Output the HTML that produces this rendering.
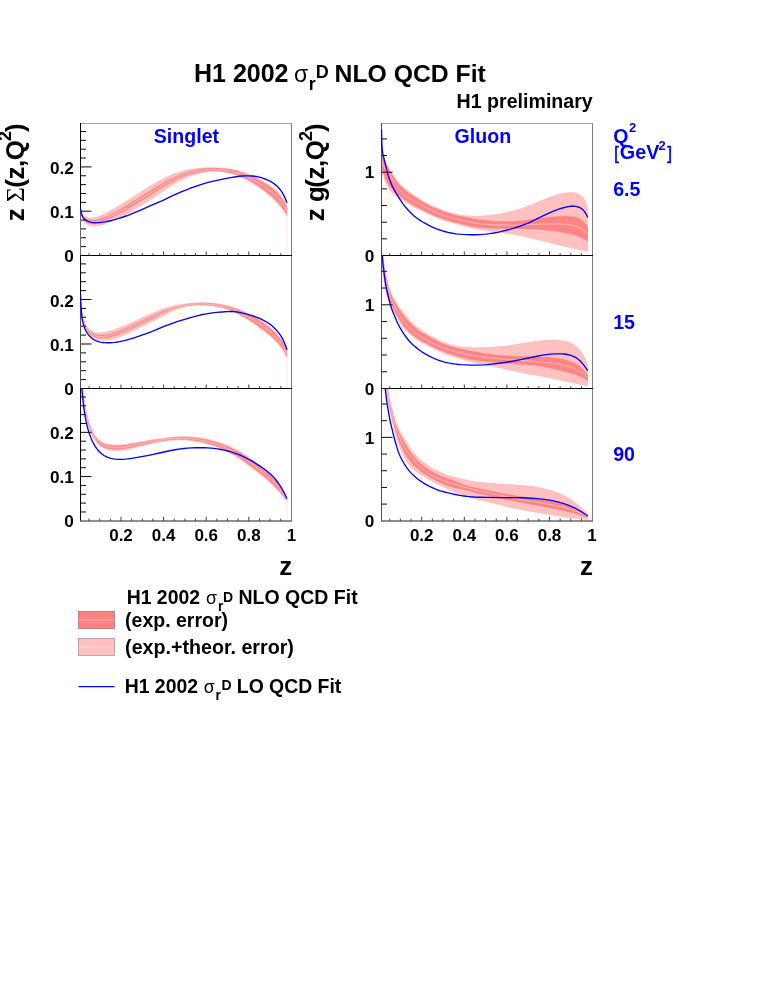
<!DOCTYPE html>
<html><head><meta charset="utf-8"><title>H1 2002 NLO QCD Fit</title>
<style>html,body{margin:0;padding:0;background:#fff;}body{width:772px;height:999px;overflow:hidden;position:relative;font-family:'Liberation Sans', sans-serif;}svg{position:absolute;left:0;top:0;will-change:transform;}</style>
</head><body>
<svg width="772" height="999" viewBox="0 0 772 999" style="display:block;font-family:'Liberation Sans', sans-serif;font-weight:bold">
<rect width="772" height="999" fill="#fff"/>
<clipPath id="c1L"><rect x="80.0" y="123.0" width="212.0" height="132.5"/></clipPath>
<g clip-path="url(#c1L)">
<polygon points="80.50,206.90 81.44,210.25 82.08,212.13 82.68,213.48 83.19,214.32 83.78,215.10 84.46,215.80 85.24,216.38 86.10,216.83 87.02,217.16 88.46,217.50 89.93,217.64 91.41,217.60 93.38,217.37 95.33,216.98 97.24,216.46 99.58,215.64 102.80,214.30 105.95,212.80 110.35,210.45 115.97,207.22 123.65,202.54 131.64,197.44 142.13,190.66 148.93,186.47 157.97,181.17 162.34,178.76 165.92,176.98 170.01,175.15 174.18,173.48 177.94,172.15 181.76,170.98 185.62,169.99 189.04,169.29 192.98,168.65 197.93,168.05 203.40,167.59 208.39,167.35 212.88,167.31 217.86,167.46 222.84,167.80 227.31,168.26 231.25,168.85 234.67,169.54 238.05,170.39 241.87,171.55 246.11,173.02 250.76,174.83 254.89,176.61 258.49,178.33 262.01,180.19 265.89,182.46 269.67,184.87 272.54,186.86 274.89,188.69 276.74,190.35 278.80,192.51 280.73,194.79 282.20,196.79 283.53,198.88 284.76,201.04 285.85,203.28 287.20,206.50 287.20,217.30 286.97,216.86 285.49,214.26 284.13,212.18 281.45,208.58 278.92,205.51 276.26,202.54 273.81,200.06 270.87,197.36 267.08,194.12 262.79,190.70 258.78,187.73 255.07,185.20 250.85,182.56 246.96,180.32 243.42,178.48 240.25,177.04 237.47,175.95 234.16,174.86 230.32,173.79 226.43,172.88 222.52,172.15 219.07,171.67 216.09,171.42 213.61,171.37 211.13,171.48 208.16,171.80 204.73,172.39 200.84,173.26 196.50,174.41 192.21,175.73 188.46,177.08 185.24,178.42 182.09,179.90 178.56,181.77 174.25,184.27 168.31,187.95 163.32,191.25 156.00,196.43 152.27,198.93 143.37,204.45 132.31,211.23 127.55,213.96 123.58,216.05 117.73,218.86 111.82,221.53 107.67,223.23 104.39,224.40 101.05,225.39 98.16,226.08 96.20,226.38 94.72,226.46 93.23,226.44 91.76,226.28 90.32,225.95 88.91,225.49 87.56,224.89 86.31,224.10 85.16,223.17 84.12,222.13 83.51,221.36 82.76,220.09 82.16,218.74 81.68,217.33 81.19,215.41 80.50,212.00" fill="#ffc0c0"/>
<polygon points="80.50,207.94 81.82,212.22 82.48,214.09 82.87,214.99 83.36,215.84 83.95,216.62 84.99,217.66 85.76,218.27 86.59,218.78 87.95,219.36 89.37,219.77 90.83,220.02 92.31,220.10 93.80,220.04 95.76,219.80 97.22,219.49 99.12,218.92 103.33,217.40 107.03,215.89 110.64,214.20 115.07,211.89 122.03,207.97 127.61,204.64 136.91,198.77 146.64,192.65 161.54,183.50 165.45,181.29 169.89,179.00 174.41,176.88 179.00,174.92 183.20,173.32 186.99,172.05 190.82,170.93 194.70,169.99 198.62,169.21 202.57,168.60 206.04,168.21 209.52,167.99 213.01,167.93 217.01,168.03 221.49,168.33 225.96,168.79 229.91,169.37 233.34,170.04 236.73,170.87 240.08,171.86 243.85,173.16 248.04,174.79 252.63,176.77 256.68,178.71 260.21,180.58 264.08,182.86 268.28,185.56 271.56,187.84 274.31,189.97 276.18,191.62 277.93,193.38 279.92,195.62 281.46,197.57 282.88,199.61 284.44,202.16 285.59,204.36 286.82,207.09 287.20,208.02 287.20,215.79 285.80,213.14 284.50,211.01 282.79,208.56 280.67,205.79 278.09,202.75 275.72,200.19 273.21,197.77 270.21,195.13 266.34,191.98 261.97,188.65 258.30,186.07 254.52,183.63 250.23,181.09 246.28,178.95 242.69,177.21 239.47,175.85 236.19,174.68 232.84,173.69 228.97,172.72 225.06,171.92 221.12,171.30 217.65,170.93 214.67,170.78 212.18,170.80 209.20,171.01 205.24,171.50 200.31,172.29 194.43,173.43 190.06,174.45 186.70,175.40 183.87,176.37 180.64,177.68 177.02,179.37 172.59,181.66 167.37,184.60 162.67,187.45 153.90,193.18 132.23,206.56 126.65,209.88 121.83,212.52 114.72,216.16 109.31,218.75 105.65,220.34 101.93,221.76 99.10,222.70 97.18,223.18 95.22,223.49 93.25,223.66 91.76,223.63 89.80,223.40 88.36,223.08 87.44,222.74 86.14,222.04 84.93,221.19 84.21,220.53 83.59,219.77 83.06,218.95 82.37,217.64 81.82,216.26 81.26,214.36 80.50,210.96" fill="#ff8a8a"/>
<path d="M80.50,209.45 L81.39,212.82 L82.16,215.18 L82.74,216.55 L83.21,217.41 L83.77,218.21 L84.43,218.94 L85.17,219.59 L85.96,220.17 L86.82,220.66 L87.72,221.06 L89.13,221.49 L90.59,221.75 L92.07,221.87 L93.56,221.85 L95.53,221.65 L97.48,221.27 L99.39,220.72 L103.14,219.39 L106.84,217.91 L110.47,216.25 L115.38,213.77 L122.42,209.97 L127.62,206.98 L134.85,202.52 L147.58,194.58 L155.23,189.85 L161.97,185.57 L166.28,183.04 L171.12,180.44 L175.60,178.21 L179.70,176.37 L183.41,174.90 L186.71,173.77 L190.07,172.79 L193.95,171.85 L198.36,170.96 L202.79,170.22 L206.75,169.72 L210.23,169.44 L213.23,169.36 L216.72,169.45 L220.70,169.76 L224.66,170.24 L228.60,170.90 L232.51,171.73 L235.88,172.62 L239.21,173.67 L242.48,174.90 L246.16,176.47 L250.22,178.40 L254.64,180.71 L258.54,182.95 L262.34,185.36 L266.44,188.20 L270.45,191.19 L273.16,193.39 L275.39,195.38 L277.49,197.51 L279.81,200.12 L281.67,202.46 L283.38,204.91 L284.72,207.01 L285.91,209.19 L287.20,211.90" fill="none" stroke="#ffc2c2" stroke-width="0.9"/>
<line x1="287.2" y1="217.3" x2="287.2" y2="255.5" stroke="#ffdcdc" stroke-width="0.6"/>
</g>
<clipPath id="c2L"><rect x="80.0" y="255.0" width="212.0" height="133.5"/></clipPath>
<g clip-path="url(#c2L)">
<polygon points="80.50,296.00 81.18,303.46 81.83,308.90 82.46,312.84 83.17,316.25 83.93,319.13 84.90,321.95 85.65,323.78 86.32,325.11 87.09,326.38 87.96,327.58 88.94,328.69 90.01,329.71 91.20,330.60 92.48,331.32 93.86,331.86 95.29,332.23 96.76,332.45 98.24,332.54 100.22,332.50 102.69,332.27 105.14,331.87 107.55,331.30 111.37,330.16 116.08,328.53 122.14,326.22 127.67,323.93 137.70,319.45 148.19,314.78 157.84,310.70 162.48,308.87 166.25,307.58 170.08,306.45 173.95,305.48 177.85,304.67 182.28,303.95 187.73,303.27 193.69,302.70 198.67,302.38 202.65,302.29 206.64,302.40 211.12,302.70 215.58,303.19 220.02,303.85 223.93,304.61 227.81,305.53 231.65,306.61 235.91,308.01 240.11,309.59 244.70,311.54 249.22,313.66 253.66,315.94 258.00,318.38 261.82,320.74 265.13,322.97 268.33,325.35 271.04,327.54 273.63,329.88 276.09,332.34 278.08,334.57 279.95,336.90 281.69,339.33 283.83,342.69 285.58,345.71 287.20,348.80 287.20,358.80 285.74,355.63 284.55,353.43 282.96,350.91 281.25,348.46 279.08,345.73 276.78,343.10 274.35,340.59 271.44,337.86 267.65,334.61 262.98,330.85 258.21,327.23 253.73,324.04 249.15,321.00 244.47,318.12 239.71,315.37 235.30,313.03 231.70,311.31 228.47,309.98 225.65,308.99 222.30,308.03 218.90,307.23 214.97,306.50 211.52,306.02 208.04,305.70 204.05,305.52 200.06,305.51 196.07,305.66 192.09,305.99 188.63,306.45 185.69,307.01 182.30,307.84 178.96,308.84 175.67,310.02 172.45,311.36 169.30,312.87 158.71,318.49 150.67,322.51 129.64,332.99 124.23,335.57 120.11,337.35 116.85,338.58 114.47,339.31 112.05,339.89 109.60,340.32 107.13,340.60 104.65,340.73 102.16,340.72 100.18,340.57 98.23,340.26 96.79,339.89 95.40,339.37 94.06,338.73 92.78,337.99 91.58,337.12 90.48,336.12 89.16,334.64 87.66,332.67 86.58,331.00 85.63,329.26 84.62,326.99 83.77,324.65 83.09,322.26 82.43,319.35 81.83,315.91 81.12,310.47 80.50,304.00" fill="#ffc0c0"/>
<polygon points="80.50,297.62 81.13,304.59 81.78,310.04 82.41,313.98 83.11,317.39 83.87,320.27 84.66,322.63 85.59,324.93 86.49,326.70 87.54,328.37 88.76,329.94 89.76,331.02 90.87,332.01 92.08,332.86 93.39,333.55 94.77,334.08 96.20,334.47 97.66,334.72 99.63,334.87 102.11,334.86 104.59,334.66 107.04,334.30 109.95,333.63 113.30,332.67 117.09,331.42 121.28,329.82 126.34,327.69 134.05,324.14 147.63,317.80 160.39,312.10 165.46,309.99 169.67,308.43 173.47,307.21 177.32,306.17 181.70,305.18 186.60,304.28 191.54,303.56 196.01,303.08 199.99,302.83 203.47,302.78 207.46,302.92 211.94,303.27 216.39,303.81 220.33,304.45 224.24,305.25 228.11,306.23 231.92,307.38 235.69,308.70 239.86,310.36 244.42,312.38 248.91,314.57 253.32,316.91 257.64,319.41 261.44,321.80 265.13,324.35 268.33,326.74 271.03,328.95 273.62,331.28 276.08,333.75 278.08,335.98 279.96,338.30 281.71,340.72 283.85,344.08 285.60,347.10 287.20,350.20 287.20,357.40 286.79,356.49 285.49,353.79 284.27,351.62 282.39,348.69 280.63,346.27 278.43,343.56 276.11,340.96 273.64,338.48 270.70,335.79 266.87,332.58 262.16,328.88 257.73,325.63 253.19,322.53 248.56,319.58 243.83,316.78 239.01,314.14 235.00,312.12 231.36,310.48 228.11,309.22 224.79,308.15 221.41,307.26 217.51,306.43 213.57,305.79 210.10,305.39 206.12,305.12 201.63,305.01 197.13,305.06 192.65,305.29 188.67,305.67 185.22,306.16 181.79,306.83 178.41,307.68 175.07,308.70 172.27,309.74 169.06,311.11 162.72,314.07 148.73,320.71 129.36,330.01 123.91,332.50 119.75,334.21 116.47,335.40 113.13,336.41 109.75,337.24 106.81,337.78 104.34,338.07 101.86,338.21 99.88,338.17 97.91,337.97 96.46,337.67 95.04,337.22 93.67,336.65 92.37,335.95 91.16,335.10 90.05,334.11 88.71,332.65 87.50,331.09 86.42,329.42 85.49,327.67 84.69,325.85 83.84,323.52 83.16,321.13 82.40,317.73 81.81,314.29 81.12,308.84 80.50,302.37" fill="#ff8a8a"/>
<path d="M80.50,300.00 L81.15,306.96 L81.83,312.41 L82.40,315.85 L83.13,319.25 L83.78,321.65 L84.59,324.00 L85.54,326.30 L86.45,328.05 L87.52,329.72 L88.73,331.29 L89.73,332.39 L90.81,333.39 L92.01,334.27 L93.30,334.99 L94.67,335.56 L96.08,336.00 L97.53,336.31 L99.50,336.51 L101.48,336.55 L103.96,336.41 L106.43,336.12 L108.87,335.66 L112.25,334.82 L115.59,333.81 L119.35,332.47 L123.51,330.79 L128.98,328.34 L148.39,319.16 L163.83,312.10 L168.88,309.95 L172.61,308.53 L175.93,307.47 L179.30,306.57 L183.20,305.72 L187.13,305.04 L191.58,304.47 L196.06,304.09 L200.04,303.92 L204.03,303.92 L208.02,304.09 L211.99,304.43 L215.95,304.95 L219.88,305.64 L223.77,306.50 L227.14,307.43 L230.45,308.51 L234.18,309.94 L238.29,311.74 L242.78,313.91 L247.64,316.47 L252.40,319.21 L256.64,321.84 L260.79,324.62 L264.83,327.54 L268.76,330.61 L271.80,333.20 L274.35,335.58 L276.77,338.09 L279.05,340.72 L280.89,343.08 L282.60,345.53 L284.70,348.92 L286.12,351.55 L287.20,353.80" fill="none" stroke="#ffc2c2" stroke-width="0.9"/>
<line x1="287.2" y1="358.8" x2="287.2" y2="388.5" stroke="#ffdcdc" stroke-width="0.6"/>
</g>
<clipPath id="c3L"><rect x="80.0" y="388.0" width="212.0" height="132.79999999999995"/></clipPath>
<g clip-path="url(#c3L)">
<polygon points="82.90,380.00 83.91,393.96 84.42,398.93 85.07,403.37 86.16,409.27 87.32,414.64 88.43,419.00 89.58,422.82 90.89,426.59 92.21,429.82 93.29,432.06 94.52,434.22 95.89,436.29 97.14,437.83 98.18,438.89 99.68,440.18 100.88,441.06 102.16,441.81 103.50,442.45 105.36,443.14 107.27,443.67 109.22,444.04 111.69,444.34 114.67,444.48 118.16,444.46 122.14,444.24 126.11,443.82 131.05,443.08 149.76,439.80 156.19,438.84 170.55,436.92 175.02,436.48 179.01,436.25 183.00,436.21 187.50,436.34 192.48,436.67 196.95,437.12 201.40,437.76 205.82,438.59 210.69,439.70 215.51,440.99 220.29,442.46 224.54,443.93 228.72,445.58 232.37,447.19 235.96,448.96 239.90,451.11 243.76,453.43 247.94,456.15 252.45,459.30 257.25,462.90 261.94,466.63 266.52,470.50 270.22,473.85 273.07,476.66 275.45,479.21 277.38,481.49 279.19,483.87 280.85,486.36 282.60,489.38 284.90,493.81 286.80,497.88 287.20,498.80 287.20,501.80 286.01,500.20 283.82,497.48 280.18,493.37 276.03,489.06 270.36,483.45 266.70,480.06 263.28,477.15 258.97,473.75 244.61,462.95 239.75,459.45 236.43,457.26 233.00,455.21 228.19,452.58 223.73,450.33 220.11,448.68 216.41,447.19 212.64,445.88 208.35,444.58 203.52,443.32 198.65,442.23 194.24,441.43 190.29,440.88 186.32,440.51 182.33,440.33 177.85,440.34 172.86,440.56 167.89,440.96 163.94,441.44 160.50,442.03 146.89,445.09 137.19,447.45 129.92,449.20 126.01,449.99 122.56,450.49 119.09,450.79 116.11,450.89 113.13,450.83 110.66,450.60 108.71,450.27 106.79,449.77 105.39,449.27 103.58,448.48 101.38,447.35 100.13,446.55 99.00,445.61 97.98,444.53 96.44,442.59 94.12,439.37 91.93,436.06 90.97,434.33 90.18,432.51 89.20,429.70 88.23,426.36 87.04,421.52 85.69,415.17 84.62,409.28 83.81,403.85 83.07,397.41 82.23,388.46 81.60,380.00" fill="#ffc0c0"/>
<polygon points="82.90,382.52 83.94,395.95 84.42,400.42 85.09,404.86 86.29,411.23 87.47,416.59 88.61,420.93 89.79,424.74 90.98,428.02 92.13,430.77 93.21,433.01 94.43,435.17 95.79,437.24 97.01,438.81 98.03,439.89 99.50,441.20 100.69,442.09 101.95,442.88 103.28,443.54 105.11,444.28 107.01,444.86 108.95,445.27 111.41,445.60 113.89,445.75 117.37,445.77 120.85,445.61 124.32,445.30 128.27,444.75 134.66,443.61 148.88,440.91 156.27,439.68 167.14,438.13 172.59,437.50 177.07,437.17 181.56,437.04 186.05,437.10 191.03,437.35 195.50,437.75 199.46,438.26 203.39,438.93 207.78,439.87 212.62,441.09 217.41,442.49 221.66,443.91 225.86,445.50 229.99,447.26 234.05,449.19 238.01,451.30 241.88,453.58 246.08,456.27 251.01,459.67 256.23,463.52 261.34,467.52 265.93,471.36 269.65,474.69 272.52,477.46 275.27,480.35 277.55,482.99 279.38,485.35 281.07,487.81 282.87,490.80 285.01,494.74 286.78,498.32 287.20,499.22 287.20,501.38 286.08,499.73 284.01,496.91 281.20,493.42 278.56,490.44 274.78,486.46 270.53,482.25 266.87,478.86 263.46,475.94 259.17,472.51 251.22,466.48 243.18,460.57 239.08,457.73 235.71,455.61 231.81,453.39 226.95,450.85 222.90,448.91 219.23,447.35 215.50,445.94 211.71,444.70 207.40,443.46 202.56,442.27 197.68,441.24 193.25,440.48 189.30,439.96 185.33,439.62 181.84,439.48 177.86,439.50 173.37,439.71 168.41,440.13 163.95,440.68 160.02,441.34 147.34,444.01 131.78,447.59 126.90,448.59 123.45,449.11 119.98,449.45 116.50,449.60 113.52,449.56 111.05,449.37 109.09,449.07 107.16,448.62 105.28,447.99 103.47,447.20 101.72,446.28 100.47,445.48 98.90,444.27 97.82,443.26 96.82,442.16 95.61,440.59 93.97,438.11 92.47,435.53 91.16,432.85 90.02,430.10 89.03,427.28 87.91,423.45 86.73,418.61 85.40,412.26 84.53,407.35 83.86,402.41 82.90,393.48" fill="#ff8a8a"/>
<path d="M82.90,388.00 L83.88,398.95 L84.48,403.91 L85.20,408.35 L86.46,414.72 L87.57,419.59 L88.62,423.44 L89.67,426.77 L90.90,430.04 L92.10,432.77 L93.24,434.99 L94.78,437.54 L96.19,439.58 L97.47,441.10 L98.52,442.15 L100.05,443.41 L101.28,444.25 L102.57,444.98 L104.37,445.81 L106.23,446.49 L108.15,447.00 L110.60,447.41 L113.07,447.63 L116.06,447.70 L119.55,447.58 L123.03,447.30 L126.49,446.84 L131.40,445.94 L148.03,442.46 L158.35,440.52 L163.77,439.64 L168.73,439.00 L173.70,438.54 L178.19,438.31 L182.19,438.26 L186.18,438.39 L190.66,438.72 L195.12,439.24 L199.56,439.95 L203.97,440.82 L208.83,441.99 L213.16,443.20 L217.44,444.58 L221.65,446.14 L225.80,447.88 L230.32,450.00 L234.31,452.06 L237.78,454.04 L241.59,456.42 L246.14,459.51 L252.23,463.89 L258.21,468.40 L262.90,472.14 L267.08,475.71 L270.75,479.10 L273.94,482.27 L277.00,485.56 L279.26,488.22 L281.09,490.58 L283.07,493.46 L284.96,496.40 L286.96,499.86 L287.20,500.30" fill="none" stroke="#ffc2c2" stroke-width="0.9"/>
<line x1="287.2" y1="501.8" x2="287.2" y2="520.8" stroke="#ffdcdc" stroke-width="0.6"/>
</g>
<clipPath id="c1R"><rect x="381.0" y="123.0" width="212.0" height="132.5"/></clipPath>
<g clip-path="url(#c1R)">
<polygon points="381.50,149.80 385.63,159.97 387.64,164.53 389.40,168.11 391.08,171.16 393.19,174.55 395.71,178.25 397.80,181.04 399.39,182.94 401.11,184.74 403.31,186.76 406.37,189.30 409.94,192.02 413.62,194.58 418.65,197.83 423.78,200.92 427.69,203.12 431.24,204.93 435.33,206.78 440.41,208.86 445.55,210.76 449.82,212.16 453.65,213.25 457.04,214.06 460.47,214.70 463.93,215.16 467.90,215.51 472.38,215.72 476.87,215.77 481.85,215.63 486.83,215.31 491.79,214.82 496.24,214.22 500.66,213.43 506.99,212.06 514.26,210.30 518.59,209.10 521.91,208.03 526.11,206.46 545.06,198.74 551.12,196.43 555.36,194.98 559.18,193.86 562.09,193.17 564.53,192.74 567.00,192.47 569.98,192.32 572.46,192.33 574.43,192.46 575.89,192.70 577.30,193.14 578.64,193.75 579.92,194.50 581.10,195.38 582.18,196.40 583.51,197.87 584.42,199.03 585.19,200.29 585.84,201.62 586.69,203.94 587.90,207.73 587.90,251.82 585.46,251.28 573.73,248.76 565.92,247.04 542.61,241.34 526.15,237.14 521.28,236.02 516.86,235.19 509.45,234.05 487.66,231.05 480.25,229.91 474.85,228.91 469.97,227.81 460.30,225.29 450.17,222.54 443.94,220.69 439.69,219.25 435.96,217.81 430.92,215.63 423.22,212.03 417.40,209.14 413.00,206.77 408.70,204.24 396.44,196.54 393.99,194.84 392.44,193.60 391.38,192.57 390.41,191.44 389.24,189.84 387.94,187.72 386.79,185.52 385.55,182.80 384.28,179.55 382.80,175.31 381.50,171.00" fill="#ffc0c0"/>
<polygon points="381.50,152.56 383.54,157.65 385.77,162.67 387.75,166.69 389.91,170.62 392.24,174.46 394.97,178.63 397.28,181.88 398.82,183.83 400.80,186.06 402.56,187.81 404.81,189.77 407.95,192.23 411.19,194.55 415.36,197.29 420.90,200.66 426.09,203.63 430.06,205.72 434.12,207.64 438.72,209.58 443.85,211.52 448.57,213.12 452.40,214.25 456.27,215.20 464.09,216.77 473.39,218.59 478.31,219.40 483.26,220.03 488.72,220.55 495.20,220.96 502.68,221.25 509.16,221.33 514.15,221.24 518.63,220.99 523.60,220.51 529.53,219.72 541.38,217.96 548.31,217.11 554.77,216.51 560.25,216.18 564.73,216.10 568.71,216.20 571.69,216.41 574.14,216.75 576.08,217.18 577.49,217.62 579.32,218.37 580.64,219.04 581.88,219.84 582.98,220.82 583.97,221.91 586.42,225.04 587.90,227.04 587.90,241.87 585.45,240.16 583.35,238.83 581.59,237.92 578.87,236.70 576.54,235.82 573.69,234.95 570.31,234.11 565.43,233.11 559.03,232.01 552.12,231.03 545.18,230.23 538.22,229.62 531.74,229.23 524.76,229.00 507.79,228.84 495.32,228.56 485.84,228.19 480.37,227.83 476.40,227.42 472.96,226.88 469.06,226.07 459.86,223.80 451.65,221.63 445.43,219.80 440.70,218.24 436.97,216.82 432.85,215.04 426.07,211.86 418.92,208.31 414.09,205.72 410.21,203.45 406.43,201.03 402.34,198.19 399.15,195.80 396.85,193.89 394.66,191.86 392.59,189.72 390.66,187.44 389.18,185.45 387.82,183.37 386.58,181.21 385.49,178.98 384.32,176.23 382.90,172.51 381.50,168.24" fill="#ff8585"/>
<path d="M381.50,160.40 L382.51,163.21 L383.49,165.50 L384.41,167.26 L385.69,169.38 L387.68,172.24 L391.44,177.50 L394.74,182.49 L398.03,187.47 L399.80,189.87 L401.09,191.38 L402.50,192.77 L404.77,194.70 L407.56,196.79 L410.86,199.01 L414.70,201.34 L420.80,204.74 L428.29,208.73 L432.75,210.95 L436.39,212.59 L440.09,214.07 L444.79,215.74 L450.03,217.38 L454.84,218.69 L461.15,220.17 L469.94,222.02 L474.85,222.91 L480.28,223.69 L485.74,224.29 L491.21,224.71 L498.69,225.04 L507.67,225.24 L514.16,225.21 L520.14,225.01 L532.60,224.35 L543.07,224.04 L553.06,223.91 L559.04,223.97 L563.52,224.18 L567.49,224.55 L570.94,225.03 L573.37,225.52 L575.29,226.03 L577.16,226.69 L578.97,227.50 L580.71,228.44 L582.37,229.52 L583.92,230.74 L586.48,233.10 L587.90,234.50" fill="none" stroke="#ffc2c2" stroke-width="0.9"/>
<line x1="587.9" y1="251.8" x2="587.9" y2="255.5" stroke="#ffdcdc" stroke-width="0.6"/>
</g>
<clipPath id="c2R"><rect x="381.0" y="255.0" width="212.0" height="133.5"/></clipPath>
<g clip-path="url(#c2R)">
<polygon points="382.60,247.00 384.14,262.91 384.70,267.37 385.31,270.80 386.44,275.65 389.20,287.28 389.91,289.66 390.62,291.51 391.89,294.21 393.98,298.18 395.99,301.63 398.14,304.99 400.71,308.68 403.71,312.67 406.54,316.16 409.17,319.16 411.60,321.67 414.52,324.39 417.94,327.29 420.71,329.42 423.19,331.08 427.04,333.39 433.16,336.76 438.48,339.52 442.09,341.23 445.30,342.59 448.58,343.80 451.91,344.82 455.30,345.65 458.73,346.30 462.19,346.76 466.16,347.12 471.15,347.37 477.14,347.46 483.14,347.37 489.12,347.09 496.10,346.54 505.04,345.63 512.48,344.69 519.39,343.62 530.71,341.67 536.15,340.90 541.61,340.31 546.60,339.94 551.08,339.77 555.07,339.78 558.56,339.96 561.53,340.27 564.47,340.78 566.89,341.35 569.26,342.09 571.09,342.85 572.84,343.78 574.51,344.86 576.09,346.05 577.57,347.37 579.32,349.14 580.93,351.03 582.39,353.04 583.72,355.14 585.16,357.75 586.23,360.00 587.72,363.70 587.90,364.17 587.90,386.32 585.95,385.91 572.30,382.88 558.13,379.88 549.33,378.07 537.04,375.87 525.26,373.67 515.97,371.76 494.54,366.90 489.65,365.94 481.77,364.71 478.34,364.09 474.45,363.18 468.68,361.60 455.76,357.75 449.58,355.77 445.83,354.41 441.69,352.68 435.34,349.75 427.72,346.03 422.40,343.27 418.94,341.30 415.99,339.43 413.56,337.70 410.84,335.52 407.87,332.86 405.38,330.42 403.71,328.58 402.16,326.64 400.72,324.61 399.40,322.50 397.47,319.01 392.20,308.82 390.03,304.33 388.66,301.12 387.64,298.32 386.48,294.50 385.35,290.16 384.40,285.77 383.45,280.36 382.75,275.42 382.22,270.46 381.75,263.99 381.50,258.00" fill="#ffc0c0"/>
<polygon points="382.00,247.01 382.39,248.95 382.86,252.91 384.08,263.31 384.95,269.23 386.02,275.13 387.16,280.49 388.37,285.33 389.61,289.64 390.86,293.42 391.95,296.20 393.21,298.91 394.83,302.00 396.60,305.00 399.05,308.76 401.91,312.84 404.92,316.82 407.47,319.89 409.82,322.46 412.30,324.91 414.92,327.21 417.64,329.38 420.47,331.42 423.82,333.59 428.12,336.12 433.37,338.99 437.81,341.25 441.89,343.13 445.58,344.63 448.87,345.79 452.21,346.80 456.08,347.75 469.27,350.45 477.08,352.09 482.48,353.05 487.92,353.82 495.36,354.64 504.80,355.49 512.77,356.05 518.75,356.30 534.21,356.54 543.19,356.87 549.66,357.27 554.13,357.69 558.08,358.23 562.00,358.94 565.40,359.74 568.75,360.70 571.57,361.67 573.86,362.62 576.09,363.72 577.79,364.73 579.40,365.88 580.92,367.16 582.68,368.91 584.70,371.10 587.90,374.92 587.90,380.86 586.62,380.08 583.60,378.32 580.92,377.00 577.74,375.57 574.95,374.52 571.62,373.47 566.32,372.02 558.56,370.12 551.24,368.52 543.88,367.11 536.50,365.86 532.05,365.24 527.08,364.78 510.62,363.73 502.16,363.08 486.74,361.58 477.31,360.57 472.36,359.88 468.44,359.15 464.06,358.13 457.80,356.44 451.57,354.59 447.31,353.17 443.58,351.74 439.00,349.76 433.58,347.21 427.79,344.27 422.08,341.18 418.21,338.90 415.30,336.98 412.90,335.21 410.60,333.29 408.06,330.91 405.99,328.76 404.04,326.49 402.23,324.11 400.27,321.22 398.18,317.82 395.74,313.47 393.45,309.03 391.54,304.97 390.00,301.28 388.62,297.54 387.41,293.74 386.24,289.40 385.25,285.02 384.32,280.11 383.48,274.68 382.69,268.24 382.00,261.28" fill="#ff8585"/>
<path d="M382.00,247.00 L383.17,260.43 L383.87,266.88 L384.64,272.32 L385.60,277.73 L386.82,283.59 L388.11,288.93 L389.45,293.74 L390.67,297.53 L391.88,300.80 L393.27,304.00 L394.82,307.13 L396.54,310.16 L399.21,314.37 L402.58,319.33 L405.21,322.96 L407.07,325.29 L409.07,327.51 L410.85,329.25 L412.73,330.87 L415.12,332.66 L418.01,334.61 L423.12,337.73 L430.04,341.72 L434.00,343.83 L437.60,345.55 L441.73,347.30 L445.94,348.87 L450.21,350.26 L455.01,351.62 L460.83,353.06 L467.17,354.43 L474.04,355.71 L480.45,356.71 L487.39,357.60 L496.82,358.59 L509.76,359.69 L522.21,360.63 L534.66,361.48 L544.11,362.32 L551.06,363.11 L556.00,363.82 L560.42,364.62 L564.31,365.49 L568.16,366.52 L571.48,367.58 L573.81,368.46 L576.07,369.49 L578.26,370.67 L580.81,372.22 L583.28,373.90 L585.62,375.75 L587.90,377.69" fill="none" stroke="#ffc2c2" stroke-width="0.9"/>
<line x1="587.9" y1="386.3" x2="587.9" y2="388.5" stroke="#ffdcdc" stroke-width="0.6"/>
</g>
<clipPath id="c3R"><rect x="381.0" y="388.0" width="212.0" height="132.79999999999995"/></clipPath>
<g clip-path="url(#c3R)">
<polygon points="386.60,380.00 388.28,389.84 389.69,397.20 391.18,404.03 392.97,411.30 394.42,416.59 395.61,420.40 396.81,423.67 397.99,426.42 399.55,429.54 402.71,435.19 407.72,443.83 409.84,447.21 411.55,449.65 413.40,452.00 415.38,454.24 417.83,456.71 420.78,459.40 423.84,461.96 427.01,464.37 430.30,466.63 433.27,468.45 436.35,470.09 439.50,471.58 443.19,473.11 446.93,474.48 451.68,476.00 457.44,477.63 462.29,478.84 467.17,479.86 473.07,480.88 479.50,481.79 485.95,482.51 493.91,483.18 509.35,484.17 521.31,484.95 527.28,485.48 532.23,486.11 537.15,486.93 542.53,488.01 547.87,489.28 552.20,490.48 555.51,491.56 558.77,492.79 561.97,494.19 565.09,495.75 568.12,497.47 571.07,499.33 573.92,501.34 577.07,503.80 580.87,507.03 586.06,511.70 587.90,513.39 587.90,519.81 575.96,518.61 567.52,517.66 561.08,516.75 529.03,511.41 520.18,509.80 511.86,508.10 505.04,506.53 492.46,503.27 479.82,500.24 473.52,498.63 468.24,497.10 463.01,495.41 457.84,493.54 452.74,491.49 447.26,489.06 440.95,486.04 433.82,482.42 428.10,479.33 423.79,476.82 419.99,474.41 416.71,472.14 413.94,470.01 411.68,468.07 410.26,466.68 408.63,464.80 407.15,462.80 405.83,460.70 404.14,457.64 402.15,453.62 400.12,449.06 398.44,444.89 397.30,441.59 396.18,437.75 391.22,418.90 389.98,413.55 388.93,408.16 386.52,393.86 385.25,385.46 384.60,380.00" fill="#ffc0c0"/>
<polygon points="385.50,380.00 386.19,382.40 386.90,385.82 389.33,398.58 390.92,405.91 392.56,412.71 394.13,418.49 395.46,422.79 396.78,426.56 398.28,430.26 399.94,433.89 401.98,437.90 404.40,442.27 406.98,446.54 409.44,450.30 411.76,453.55 413.92,456.30 416.22,458.93 418.66,461.41 421.24,463.77 423.93,465.99 426.73,468.08 429.62,470.04 432.61,471.85 435.70,473.47 438.87,474.94 442.56,476.45 448.19,478.49 453.34,480.34 456.54,481.66 460.62,483.43 463.42,484.44 466.76,485.43 472.57,486.90 484.27,489.56 494.54,491.73 507.79,494.30 516.65,495.86 529.00,497.76 541.84,499.74 549.72,501.12 556.09,502.40 561.44,503.65 565.78,504.83 569.59,506.02 572.87,507.21 575.63,508.37 578.77,509.90 583.58,512.54 587.90,515.06 587.90,517.83 586.96,517.51 579.39,514.93 574.62,513.46 569.81,512.16 563.48,510.69 554.19,508.76 534.07,504.98 510.01,500.51 501.19,498.75 488.02,495.87 480.73,494.14 473.49,492.21 465.78,490.14 461.91,489.26 458.03,488.57 454.64,488.03 452.73,487.56 450.38,486.80 446.65,485.41 442.05,483.49 437.05,481.21 432.59,478.97 429.10,477.04 425.71,474.94 422.84,472.96 420.06,470.84 417.00,468.29 414.44,465.91 412.02,463.41 410.06,461.15 408.23,458.79 406.55,456.32 404.77,453.33 402.90,449.80 400.75,445.30 398.98,441.17 397.56,437.44 396.14,433.18 394.47,427.43 392.31,419.22 390.44,411.45 389.09,405.10 387.82,398.23 385.50,383.93" fill="#ff8585"/>
<path d="M385.50,380.00 L387.54,392.83 L388.79,399.71 L390.12,406.06 L392.07,414.33 L393.71,420.61 L395.12,425.40 L396.55,429.66 L398.15,433.85 L399.93,437.98 L401.86,442.04 L403.94,446.01 L405.95,449.46 L408.11,452.82 L410.42,456.07 L412.86,459.23 L415.43,462.28 L417.81,464.84 L420.31,467.27 L422.93,469.57 L425.29,471.41 L427.74,473.11 L430.28,474.69 L432.90,476.13 L436.04,477.65 L439.70,479.24 L443.89,480.85 L448.62,482.46 L458.64,485.54 L465.36,487.47 L471.65,489.08 L482.37,491.54 L496.53,494.59 L516.60,498.65 L525.93,500.39 L548.60,504.19 L556.45,505.66 L561.82,506.84 L566.65,508.10 L571.42,509.55 L575.19,510.85 L578.43,512.15 L582.97,514.22 L587.90,516.65" fill="none" stroke="#ffc2c2" stroke-width="0.9"/>
<line x1="587.9" y1="519.8" x2="587.9" y2="520.8" stroke="#ffdcdc" stroke-width="0.6"/>
</g>
<line x1="80.5" y1="123.5" x2="292.0" y2="123.5" stroke="#a6a6a6" stroke-width="1"/>
<line x1="291.5" y1="123.5" x2="291.5" y2="521.3" stroke="#808080" stroke-width="1"/>
<line x1="80.5" y1="123.0" x2="80.5" y2="521.3" stroke="#000" stroke-width="1"/>
<line x1="80.5" y1="255.5" x2="292.0" y2="255.5" stroke="#000" stroke-width="1"/>
<line x1="80.5" y1="388.5" x2="292.0" y2="388.5" stroke="#000" stroke-width="1"/>
<line x1="80.0" y1="520.9" x2="292.0" y2="520.9" stroke="#6a6a6a" stroke-width="1.5"/>
<line x1="89.05" y1="253.2" x2="89.05" y2="255.5" stroke="#2a2a2a" stroke-width="0.9"/>
<line x1="99.70" y1="253.2" x2="99.70" y2="255.5" stroke="#2a2a2a" stroke-width="0.9"/>
<line x1="110.35" y1="253.2" x2="110.35" y2="255.5" stroke="#2a2a2a" stroke-width="0.9"/>
<line x1="121.00" y1="251.5" x2="121.00" y2="255.5" stroke="#2a2a2a" stroke-width="0.9"/>
<line x1="131.65" y1="253.2" x2="131.65" y2="255.5" stroke="#2a2a2a" stroke-width="0.9"/>
<line x1="142.30" y1="253.2" x2="142.30" y2="255.5" stroke="#2a2a2a" stroke-width="0.9"/>
<line x1="152.95" y1="253.2" x2="152.95" y2="255.5" stroke="#2a2a2a" stroke-width="0.9"/>
<line x1="163.60" y1="251.5" x2="163.60" y2="255.5" stroke="#2a2a2a" stroke-width="0.9"/>
<line x1="174.25" y1="253.2" x2="174.25" y2="255.5" stroke="#2a2a2a" stroke-width="0.9"/>
<line x1="184.90" y1="253.2" x2="184.90" y2="255.5" stroke="#2a2a2a" stroke-width="0.9"/>
<line x1="195.55" y1="253.2" x2="195.55" y2="255.5" stroke="#2a2a2a" stroke-width="0.9"/>
<line x1="206.20" y1="251.5" x2="206.20" y2="255.5" stroke="#2a2a2a" stroke-width="0.9"/>
<line x1="216.85" y1="253.2" x2="216.85" y2="255.5" stroke="#2a2a2a" stroke-width="0.9"/>
<line x1="227.50" y1="253.2" x2="227.50" y2="255.5" stroke="#2a2a2a" stroke-width="0.9"/>
<line x1="238.15" y1="253.2" x2="238.15" y2="255.5" stroke="#2a2a2a" stroke-width="0.9"/>
<line x1="248.80" y1="251.5" x2="248.80" y2="255.5" stroke="#2a2a2a" stroke-width="0.9"/>
<line x1="259.45" y1="253.2" x2="259.45" y2="255.5" stroke="#2a2a2a" stroke-width="0.9"/>
<line x1="270.10" y1="253.2" x2="270.10" y2="255.5" stroke="#2a2a2a" stroke-width="0.9"/>
<line x1="280.75" y1="253.2" x2="280.75" y2="255.5" stroke="#2a2a2a" stroke-width="0.9"/>
<line x1="89.05" y1="386.2" x2="89.05" y2="388.5" stroke="#2a2a2a" stroke-width="0.9"/>
<line x1="99.70" y1="386.2" x2="99.70" y2="388.5" stroke="#2a2a2a" stroke-width="0.9"/>
<line x1="110.35" y1="386.2" x2="110.35" y2="388.5" stroke="#2a2a2a" stroke-width="0.9"/>
<line x1="121.00" y1="384.5" x2="121.00" y2="388.5" stroke="#2a2a2a" stroke-width="0.9"/>
<line x1="131.65" y1="386.2" x2="131.65" y2="388.5" stroke="#2a2a2a" stroke-width="0.9"/>
<line x1="142.30" y1="386.2" x2="142.30" y2="388.5" stroke="#2a2a2a" stroke-width="0.9"/>
<line x1="152.95" y1="386.2" x2="152.95" y2="388.5" stroke="#2a2a2a" stroke-width="0.9"/>
<line x1="163.60" y1="384.5" x2="163.60" y2="388.5" stroke="#2a2a2a" stroke-width="0.9"/>
<line x1="174.25" y1="386.2" x2="174.25" y2="388.5" stroke="#2a2a2a" stroke-width="0.9"/>
<line x1="184.90" y1="386.2" x2="184.90" y2="388.5" stroke="#2a2a2a" stroke-width="0.9"/>
<line x1="195.55" y1="386.2" x2="195.55" y2="388.5" stroke="#2a2a2a" stroke-width="0.9"/>
<line x1="206.20" y1="384.5" x2="206.20" y2="388.5" stroke="#2a2a2a" stroke-width="0.9"/>
<line x1="216.85" y1="386.2" x2="216.85" y2="388.5" stroke="#2a2a2a" stroke-width="0.9"/>
<line x1="227.50" y1="386.2" x2="227.50" y2="388.5" stroke="#2a2a2a" stroke-width="0.9"/>
<line x1="238.15" y1="386.2" x2="238.15" y2="388.5" stroke="#2a2a2a" stroke-width="0.9"/>
<line x1="248.80" y1="384.5" x2="248.80" y2="388.5" stroke="#2a2a2a" stroke-width="0.9"/>
<line x1="259.45" y1="386.2" x2="259.45" y2="388.5" stroke="#2a2a2a" stroke-width="0.9"/>
<line x1="270.10" y1="386.2" x2="270.10" y2="388.5" stroke="#2a2a2a" stroke-width="0.9"/>
<line x1="280.75" y1="386.2" x2="280.75" y2="388.5" stroke="#2a2a2a" stroke-width="0.9"/>
<line x1="89.05" y1="518.5" x2="89.05" y2="520.8" stroke="#2a2a2a" stroke-width="0.9"/>
<line x1="99.70" y1="518.5" x2="99.70" y2="520.8" stroke="#2a2a2a" stroke-width="0.9"/>
<line x1="110.35" y1="518.5" x2="110.35" y2="520.8" stroke="#2a2a2a" stroke-width="0.9"/>
<line x1="121.00" y1="516.8" x2="121.00" y2="520.8" stroke="#2a2a2a" stroke-width="0.9"/>
<line x1="131.65" y1="518.5" x2="131.65" y2="520.8" stroke="#2a2a2a" stroke-width="0.9"/>
<line x1="142.30" y1="518.5" x2="142.30" y2="520.8" stroke="#2a2a2a" stroke-width="0.9"/>
<line x1="152.95" y1="518.5" x2="152.95" y2="520.8" stroke="#2a2a2a" stroke-width="0.9"/>
<line x1="163.60" y1="516.8" x2="163.60" y2="520.8" stroke="#2a2a2a" stroke-width="0.9"/>
<line x1="174.25" y1="518.5" x2="174.25" y2="520.8" stroke="#2a2a2a" stroke-width="0.9"/>
<line x1="184.90" y1="518.5" x2="184.90" y2="520.8" stroke="#2a2a2a" stroke-width="0.9"/>
<line x1="195.55" y1="518.5" x2="195.55" y2="520.8" stroke="#2a2a2a" stroke-width="0.9"/>
<line x1="206.20" y1="516.8" x2="206.20" y2="520.8" stroke="#2a2a2a" stroke-width="0.9"/>
<line x1="216.85" y1="518.5" x2="216.85" y2="520.8" stroke="#2a2a2a" stroke-width="0.9"/>
<line x1="227.50" y1="518.5" x2="227.50" y2="520.8" stroke="#2a2a2a" stroke-width="0.9"/>
<line x1="238.15" y1="518.5" x2="238.15" y2="520.8" stroke="#2a2a2a" stroke-width="0.9"/>
<line x1="248.80" y1="516.8" x2="248.80" y2="520.8" stroke="#2a2a2a" stroke-width="0.9"/>
<line x1="259.45" y1="518.5" x2="259.45" y2="520.8" stroke="#2a2a2a" stroke-width="0.9"/>
<line x1="270.10" y1="518.5" x2="270.10" y2="520.8" stroke="#2a2a2a" stroke-width="0.9"/>
<line x1="280.75" y1="518.5" x2="280.75" y2="520.8" stroke="#2a2a2a" stroke-width="0.9"/>
<line x1="80.5" y1="246.64" x2="86.0" y2="246.64" stroke="#0c0c0c" stroke-width="1"/>
<line x1="80.5" y1="237.78" x2="86.0" y2="237.78" stroke="#0c0c0c" stroke-width="1"/>
<line x1="80.5" y1="228.92" x2="86.0" y2="228.92" stroke="#0c0c0c" stroke-width="1"/>
<line x1="80.5" y1="220.06" x2="86.0" y2="220.06" stroke="#0c0c0c" stroke-width="1"/>
<line x1="80.5" y1="211.20" x2="91.5" y2="211.20" stroke="#0c0c0c" stroke-width="1"/>
<line x1="80.5" y1="202.34" x2="86.0" y2="202.34" stroke="#0c0c0c" stroke-width="1"/>
<line x1="80.5" y1="193.48" x2="86.0" y2="193.48" stroke="#0c0c0c" stroke-width="1"/>
<line x1="80.5" y1="184.62" x2="86.0" y2="184.62" stroke="#0c0c0c" stroke-width="1"/>
<line x1="80.5" y1="175.76" x2="86.0" y2="175.76" stroke="#0c0c0c" stroke-width="1"/>
<line x1="80.5" y1="166.90" x2="91.5" y2="166.90" stroke="#0c0c0c" stroke-width="1"/>
<line x1="80.5" y1="158.04" x2="86.0" y2="158.04" stroke="#0c0c0c" stroke-width="1"/>
<line x1="80.5" y1="149.18" x2="86.0" y2="149.18" stroke="#0c0c0c" stroke-width="1"/>
<line x1="80.5" y1="140.32" x2="86.0" y2="140.32" stroke="#0c0c0c" stroke-width="1"/>
<line x1="80.5" y1="131.46" x2="86.0" y2="131.46" stroke="#0c0c0c" stroke-width="1"/>
<line x1="80.5" y1="379.60" x2="86.0" y2="379.60" stroke="#0c0c0c" stroke-width="1"/>
<line x1="80.5" y1="370.70" x2="86.0" y2="370.70" stroke="#0c0c0c" stroke-width="1"/>
<line x1="80.5" y1="361.80" x2="86.0" y2="361.80" stroke="#0c0c0c" stroke-width="1"/>
<line x1="80.5" y1="352.90" x2="86.0" y2="352.90" stroke="#0c0c0c" stroke-width="1"/>
<line x1="80.5" y1="344.00" x2="91.5" y2="344.00" stroke="#0c0c0c" stroke-width="1"/>
<line x1="80.5" y1="335.10" x2="86.0" y2="335.10" stroke="#0c0c0c" stroke-width="1"/>
<line x1="80.5" y1="326.20" x2="86.0" y2="326.20" stroke="#0c0c0c" stroke-width="1"/>
<line x1="80.5" y1="317.30" x2="86.0" y2="317.30" stroke="#0c0c0c" stroke-width="1"/>
<line x1="80.5" y1="308.40" x2="86.0" y2="308.40" stroke="#0c0c0c" stroke-width="1"/>
<line x1="80.5" y1="299.50" x2="91.5" y2="299.50" stroke="#0c0c0c" stroke-width="1"/>
<line x1="80.5" y1="290.60" x2="86.0" y2="290.60" stroke="#0c0c0c" stroke-width="1"/>
<line x1="80.5" y1="281.70" x2="86.0" y2="281.70" stroke="#0c0c0c" stroke-width="1"/>
<line x1="80.5" y1="272.80" x2="86.0" y2="272.80" stroke="#0c0c0c" stroke-width="1"/>
<line x1="80.5" y1="263.90" x2="86.0" y2="263.90" stroke="#0c0c0c" stroke-width="1"/>
<line x1="80.5" y1="511.96" x2="86.0" y2="511.96" stroke="#0c0c0c" stroke-width="1"/>
<line x1="80.5" y1="503.11" x2="86.0" y2="503.11" stroke="#0c0c0c" stroke-width="1"/>
<line x1="80.5" y1="494.27" x2="86.0" y2="494.27" stroke="#0c0c0c" stroke-width="1"/>
<line x1="80.5" y1="485.42" x2="86.0" y2="485.42" stroke="#0c0c0c" stroke-width="1"/>
<line x1="80.5" y1="476.58" x2="91.5" y2="476.58" stroke="#0c0c0c" stroke-width="1"/>
<line x1="80.5" y1="467.73" x2="86.0" y2="467.73" stroke="#0c0c0c" stroke-width="1"/>
<line x1="80.5" y1="458.89" x2="86.0" y2="458.89" stroke="#0c0c0c" stroke-width="1"/>
<line x1="80.5" y1="450.04" x2="86.0" y2="450.04" stroke="#0c0c0c" stroke-width="1"/>
<line x1="80.5" y1="441.20" x2="86.0" y2="441.20" stroke="#0c0c0c" stroke-width="1"/>
<line x1="80.5" y1="432.35" x2="91.5" y2="432.35" stroke="#0c0c0c" stroke-width="1"/>
<line x1="80.5" y1="423.51" x2="86.0" y2="423.51" stroke="#0c0c0c" stroke-width="1"/>
<line x1="80.5" y1="414.66" x2="86.0" y2="414.66" stroke="#0c0c0c" stroke-width="1"/>
<line x1="80.5" y1="405.82" x2="86.0" y2="405.82" stroke="#0c0c0c" stroke-width="1"/>
<line x1="80.5" y1="396.97" x2="86.0" y2="396.97" stroke="#0c0c0c" stroke-width="1"/>
<line x1="381.5" y1="123.5" x2="593.0" y2="123.5" stroke="#a6a6a6" stroke-width="1"/>
<line x1="592.5" y1="123.5" x2="592.5" y2="521.3" stroke="#808080" stroke-width="1"/>
<line x1="381.5" y1="123.0" x2="381.5" y2="521.3" stroke="#505050" stroke-width="1"/>
<line x1="381.5" y1="255.5" x2="593.0" y2="255.5" stroke="#000" stroke-width="1"/>
<line x1="381.5" y1="388.5" x2="593.0" y2="388.5" stroke="#000" stroke-width="1"/>
<line x1="381.0" y1="520.9" x2="593.0" y2="520.9" stroke="#6a6a6a" stroke-width="1.5"/>
<line x1="389.75" y1="253.2" x2="389.75" y2="255.5" stroke="#2a2a2a" stroke-width="0.9"/>
<line x1="400.40" y1="253.2" x2="400.40" y2="255.5" stroke="#2a2a2a" stroke-width="0.9"/>
<line x1="411.05" y1="253.2" x2="411.05" y2="255.5" stroke="#2a2a2a" stroke-width="0.9"/>
<line x1="421.70" y1="251.5" x2="421.70" y2="255.5" stroke="#2a2a2a" stroke-width="0.9"/>
<line x1="432.35" y1="253.2" x2="432.35" y2="255.5" stroke="#2a2a2a" stroke-width="0.9"/>
<line x1="443.00" y1="253.2" x2="443.00" y2="255.5" stroke="#2a2a2a" stroke-width="0.9"/>
<line x1="453.65" y1="253.2" x2="453.65" y2="255.5" stroke="#2a2a2a" stroke-width="0.9"/>
<line x1="464.30" y1="251.5" x2="464.30" y2="255.5" stroke="#2a2a2a" stroke-width="0.9"/>
<line x1="474.95" y1="253.2" x2="474.95" y2="255.5" stroke="#2a2a2a" stroke-width="0.9"/>
<line x1="485.60" y1="253.2" x2="485.60" y2="255.5" stroke="#2a2a2a" stroke-width="0.9"/>
<line x1="496.25" y1="253.2" x2="496.25" y2="255.5" stroke="#2a2a2a" stroke-width="0.9"/>
<line x1="506.90" y1="251.5" x2="506.90" y2="255.5" stroke="#2a2a2a" stroke-width="0.9"/>
<line x1="517.55" y1="253.2" x2="517.55" y2="255.5" stroke="#2a2a2a" stroke-width="0.9"/>
<line x1="528.20" y1="253.2" x2="528.20" y2="255.5" stroke="#2a2a2a" stroke-width="0.9"/>
<line x1="538.85" y1="253.2" x2="538.85" y2="255.5" stroke="#2a2a2a" stroke-width="0.9"/>
<line x1="549.50" y1="251.5" x2="549.50" y2="255.5" stroke="#2a2a2a" stroke-width="0.9"/>
<line x1="560.15" y1="253.2" x2="560.15" y2="255.5" stroke="#2a2a2a" stroke-width="0.9"/>
<line x1="570.80" y1="253.2" x2="570.80" y2="255.5" stroke="#2a2a2a" stroke-width="0.9"/>
<line x1="581.45" y1="253.2" x2="581.45" y2="255.5" stroke="#2a2a2a" stroke-width="0.9"/>
<line x1="389.75" y1="386.2" x2="389.75" y2="388.5" stroke="#2a2a2a" stroke-width="0.9"/>
<line x1="400.40" y1="386.2" x2="400.40" y2="388.5" stroke="#2a2a2a" stroke-width="0.9"/>
<line x1="411.05" y1="386.2" x2="411.05" y2="388.5" stroke="#2a2a2a" stroke-width="0.9"/>
<line x1="421.70" y1="384.5" x2="421.70" y2="388.5" stroke="#2a2a2a" stroke-width="0.9"/>
<line x1="432.35" y1="386.2" x2="432.35" y2="388.5" stroke="#2a2a2a" stroke-width="0.9"/>
<line x1="443.00" y1="386.2" x2="443.00" y2="388.5" stroke="#2a2a2a" stroke-width="0.9"/>
<line x1="453.65" y1="386.2" x2="453.65" y2="388.5" stroke="#2a2a2a" stroke-width="0.9"/>
<line x1="464.30" y1="384.5" x2="464.30" y2="388.5" stroke="#2a2a2a" stroke-width="0.9"/>
<line x1="474.95" y1="386.2" x2="474.95" y2="388.5" stroke="#2a2a2a" stroke-width="0.9"/>
<line x1="485.60" y1="386.2" x2="485.60" y2="388.5" stroke="#2a2a2a" stroke-width="0.9"/>
<line x1="496.25" y1="386.2" x2="496.25" y2="388.5" stroke="#2a2a2a" stroke-width="0.9"/>
<line x1="506.90" y1="384.5" x2="506.90" y2="388.5" stroke="#2a2a2a" stroke-width="0.9"/>
<line x1="517.55" y1="386.2" x2="517.55" y2="388.5" stroke="#2a2a2a" stroke-width="0.9"/>
<line x1="528.20" y1="386.2" x2="528.20" y2="388.5" stroke="#2a2a2a" stroke-width="0.9"/>
<line x1="538.85" y1="386.2" x2="538.85" y2="388.5" stroke="#2a2a2a" stroke-width="0.9"/>
<line x1="549.50" y1="384.5" x2="549.50" y2="388.5" stroke="#2a2a2a" stroke-width="0.9"/>
<line x1="560.15" y1="386.2" x2="560.15" y2="388.5" stroke="#2a2a2a" stroke-width="0.9"/>
<line x1="570.80" y1="386.2" x2="570.80" y2="388.5" stroke="#2a2a2a" stroke-width="0.9"/>
<line x1="581.45" y1="386.2" x2="581.45" y2="388.5" stroke="#2a2a2a" stroke-width="0.9"/>
<line x1="389.75" y1="518.5" x2="389.75" y2="520.8" stroke="#2a2a2a" stroke-width="0.9"/>
<line x1="400.40" y1="518.5" x2="400.40" y2="520.8" stroke="#2a2a2a" stroke-width="0.9"/>
<line x1="411.05" y1="518.5" x2="411.05" y2="520.8" stroke="#2a2a2a" stroke-width="0.9"/>
<line x1="421.70" y1="516.8" x2="421.70" y2="520.8" stroke="#2a2a2a" stroke-width="0.9"/>
<line x1="432.35" y1="518.5" x2="432.35" y2="520.8" stroke="#2a2a2a" stroke-width="0.9"/>
<line x1="443.00" y1="518.5" x2="443.00" y2="520.8" stroke="#2a2a2a" stroke-width="0.9"/>
<line x1="453.65" y1="518.5" x2="453.65" y2="520.8" stroke="#2a2a2a" stroke-width="0.9"/>
<line x1="464.30" y1="516.8" x2="464.30" y2="520.8" stroke="#2a2a2a" stroke-width="0.9"/>
<line x1="474.95" y1="518.5" x2="474.95" y2="520.8" stroke="#2a2a2a" stroke-width="0.9"/>
<line x1="485.60" y1="518.5" x2="485.60" y2="520.8" stroke="#2a2a2a" stroke-width="0.9"/>
<line x1="496.25" y1="518.5" x2="496.25" y2="520.8" stroke="#2a2a2a" stroke-width="0.9"/>
<line x1="506.90" y1="516.8" x2="506.90" y2="520.8" stroke="#2a2a2a" stroke-width="0.9"/>
<line x1="517.55" y1="518.5" x2="517.55" y2="520.8" stroke="#2a2a2a" stroke-width="0.9"/>
<line x1="528.20" y1="518.5" x2="528.20" y2="520.8" stroke="#2a2a2a" stroke-width="0.9"/>
<line x1="538.85" y1="518.5" x2="538.85" y2="520.8" stroke="#2a2a2a" stroke-width="0.9"/>
<line x1="549.50" y1="516.8" x2="549.50" y2="520.8" stroke="#2a2a2a" stroke-width="0.9"/>
<line x1="560.15" y1="518.5" x2="560.15" y2="520.8" stroke="#2a2a2a" stroke-width="0.9"/>
<line x1="570.80" y1="518.5" x2="570.80" y2="520.8" stroke="#2a2a2a" stroke-width="0.9"/>
<line x1="581.45" y1="518.5" x2="581.45" y2="520.8" stroke="#2a2a2a" stroke-width="0.9"/>
<line x1="381.5" y1="238.84" x2="387.0" y2="238.84" stroke="#0c0c0c" stroke-width="1"/>
<line x1="381.5" y1="222.19" x2="387.0" y2="222.19" stroke="#0c0c0c" stroke-width="1"/>
<line x1="381.5" y1="205.53" x2="387.0" y2="205.53" stroke="#0c0c0c" stroke-width="1"/>
<line x1="381.5" y1="188.88" x2="387.0" y2="188.88" stroke="#0c0c0c" stroke-width="1"/>
<line x1="381.5" y1="172.22" x2="392.5" y2="172.22" stroke="#0c0c0c" stroke-width="1"/>
<line x1="381.5" y1="155.56" x2="387.0" y2="155.56" stroke="#0c0c0c" stroke-width="1"/>
<line x1="381.5" y1="138.91" x2="387.0" y2="138.91" stroke="#0c0c0c" stroke-width="1"/>
<line x1="381.5" y1="371.76" x2="387.0" y2="371.76" stroke="#0c0c0c" stroke-width="1"/>
<line x1="381.5" y1="355.02" x2="387.0" y2="355.02" stroke="#0c0c0c" stroke-width="1"/>
<line x1="381.5" y1="338.28" x2="387.0" y2="338.28" stroke="#0c0c0c" stroke-width="1"/>
<line x1="381.5" y1="321.54" x2="387.0" y2="321.54" stroke="#0c0c0c" stroke-width="1"/>
<line x1="381.5" y1="304.80" x2="392.5" y2="304.80" stroke="#0c0c0c" stroke-width="1"/>
<line x1="381.5" y1="288.06" x2="387.0" y2="288.06" stroke="#0c0c0c" stroke-width="1"/>
<line x1="381.5" y1="271.32" x2="387.0" y2="271.32" stroke="#0c0c0c" stroke-width="1"/>
<line x1="381.5" y1="504.11" x2="387.0" y2="504.11" stroke="#0c0c0c" stroke-width="1"/>
<line x1="381.5" y1="487.43" x2="387.0" y2="487.43" stroke="#0c0c0c" stroke-width="1"/>
<line x1="381.5" y1="470.74" x2="387.0" y2="470.74" stroke="#0c0c0c" stroke-width="1"/>
<line x1="381.5" y1="454.06" x2="387.0" y2="454.06" stroke="#0c0c0c" stroke-width="1"/>
<line x1="381.5" y1="437.37" x2="392.5" y2="437.37" stroke="#0c0c0c" stroke-width="1"/>
<line x1="381.5" y1="420.69" x2="387.0" y2="420.69" stroke="#0c0c0c" stroke-width="1"/>
<line x1="381.5" y1="404.00" x2="387.0" y2="404.00" stroke="#0c0c0c" stroke-width="1"/>
<line x1="80.5" y1="210" x2="80.5" y2="255.0" stroke="#fff" stroke-opacity="0.42" stroke-width="1"/>
<line x1="80.5" y1="300" x2="80.5" y2="388.0" stroke="#fff" stroke-opacity="0.3" stroke-width="1"/>
<g clip-path="url(#c1L)">
<path d="M80.50,208.90 L81.05,211.84 L81.49,213.77 L81.77,214.72 L82.12,215.64 L82.55,216.53 L83.06,217.37 L83.65,218.15 L84.33,218.86 L85.07,219.51 L86.25,220.41 L87.09,220.94 L87.97,221.38 L88.89,221.74 L90.31,222.17 L91.27,222.39 L92.25,222.54 L93.73,222.67 L95.72,222.72 L97.71,222.66 L100.19,222.47 L102.66,222.19 L105.13,221.80 L108.07,221.24 L111.48,220.47 L114.86,219.59 L118.70,218.47 L122.50,217.25 L126.75,215.76 L130.95,214.17 L135.12,212.48 L140.17,210.31 L151.14,205.45 L159.87,201.74 L163.05,200.29 L172.06,195.96 L176.60,193.89 L181.19,191.91 L185.82,190.02 L190.49,188.24 L195.66,186.37 L200.87,184.61 L204.69,183.42 L208.05,182.47 L211.44,181.62 L216.81,180.43 L226.60,178.42 L232.00,177.39 L235.95,176.75 L239.41,176.29 L242.39,175.99 L244.88,175.85 L247.37,175.80 L249.87,175.86 L252.35,176.02 L254.33,176.23 L256.30,176.53 L258.26,176.91 L260.20,177.37 L262.11,177.91 L264.00,178.54 L265.86,179.25 L267.69,180.04 L269.49,180.90 L270.80,181.61 L272.08,182.38 L273.73,183.49 L274.92,184.38 L276.07,185.33 L277.16,186.35 L278.55,187.77 L279.86,189.26 L280.78,190.43 L281.64,191.65 L282.70,193.34 L283.66,195.08 L284.54,196.86 L285.35,198.69 L286.24,201.01 L286.90,202.90" fill="none" stroke="#0000ff" stroke-width="1.35" stroke-linejoin="round"/>
</g>
<g clip-path="url(#c2L)">
<path d="M80.50,294.00 L80.81,301.99 L81.16,308.47 L81.49,312.95 L81.84,316.42 L82.19,318.89 L82.65,321.34 L83.22,323.76 L83.77,325.67 L84.26,327.07 L85.01,328.91 L85.63,330.27 L86.33,331.58 L87.12,332.84 L87.97,334.06 L88.89,335.23 L89.88,336.34 L90.94,337.38 L92.07,338.35 L93.27,339.22 L94.54,339.99 L95.86,340.68 L97.22,341.25 L98.64,341.71 L100.08,342.07 L101.54,342.34 L103.02,342.53 L105.00,342.68 L107.49,342.75 L109.98,342.72 L112.46,342.58 L114.94,342.35 L117.41,342.01 L119.86,341.57 L122.79,340.94 L126.18,340.10 L130.51,338.90 L134.81,337.60 L139.08,336.20 L144.73,334.20 L150.35,332.12 L154.53,330.46 L164.66,326.21 L168.84,324.57 L173.06,323.03 L177.79,321.43 L183.03,319.77 L188.78,318.07 L194.08,316.61 L198.92,315.39 L202.81,314.50 L206.24,313.81 L209.19,313.32 L212.65,312.85 L216.62,312.42 L222.09,311.96 L226.58,311.67 L230.06,311.54 L232.55,311.53 L234.04,311.60 L235.52,311.74 L237.49,312.04 L240.42,312.62 L243.82,313.39 L247.69,314.39 L251.05,315.35 L253.90,316.26 L256.71,317.27 L259.03,318.20 L261.30,319.21 L263.53,320.32 L265.72,321.51 L267.85,322.79 L269.50,323.90 L270.70,324.80 L272.22,326.07 L274.05,327.76 L275.80,329.52 L277.48,331.37 L279.06,333.28 L280.24,334.88 L281.06,336.13 L282.07,337.84 L282.99,339.60 L283.83,341.41 L285.01,344.15 L285.89,346.49 L286.85,349.32 L287.00,349.80" fill="none" stroke="#0000ff" stroke-width="1.35" stroke-linejoin="round"/>
</g>
<g clip-path="url(#c3L)">
<path d="M81.00,380.00 L82.84,399.39 L83.49,405.34 L84.07,409.80 L84.76,414.24 L85.55,418.66 L86.35,422.57 L87.13,425.98 L88.02,429.35 L88.88,432.22 L89.83,435.05 L90.89,437.85 L91.87,440.14 L92.72,441.94 L93.64,443.70 L94.90,445.84 L95.99,447.51 L97.17,449.11 L98.11,450.26 L99.44,451.73 L100.50,452.78 L101.61,453.77 L102.79,454.67 L104.03,455.49 L105.32,456.22 L106.66,456.88 L108.03,457.45 L109.44,457.93 L110.87,458.35 L112.32,458.69 L113.78,458.94 L115.75,459.18 L117.74,459.33 L120.22,459.39 L122.71,459.34 L125.19,459.16 L127.67,458.89 L131.62,458.33 L137.53,457.34 L147.35,455.56 L153.23,454.40 L159.57,453.01 L167.37,451.28 L172.26,450.28 L176.68,449.49 L180.63,448.89 L184.10,448.47 L187.58,448.15 L191.56,447.89 L195.55,447.73 L200.04,447.67 L204.03,447.72 L207.52,447.87 L211.01,448.12 L213.98,448.43 L217.44,448.91 L220.88,449.50 L224.30,450.20 L227.70,451.00 L231.07,451.92 L233.93,452.81 L236.75,453.80 L239.53,454.90 L242.27,456.10 L245.41,457.62 L248.51,459.23 L252.00,461.17 L255.44,463.20 L258.82,465.32 L261.73,467.26 L264.16,469.00 L266.54,470.82 L268.85,472.71 L270.72,474.36 L272.51,476.08 L274.23,477.89 L275.85,479.78 L277.39,481.73 L278.85,483.75 L280.22,485.83 L281.51,487.96 L282.98,490.57 L284.84,494.10 L286.37,497.24 L287.00,498.60" fill="none" stroke="#0000ff" stroke-width="1.35" stroke-linejoin="round"/>
</g>
<g clip-path="url(#c1R)">
<path d="M381.50,129.50 L381.61,135.00 L381.87,142.99 L382.09,146.97 L382.30,149.46 L382.54,151.43 L382.89,153.39 L383.81,157.78 L385.63,165.57 L386.84,170.41 L387.77,173.78 L388.81,177.12 L389.97,180.42 L391.05,183.21 L392.23,185.96 L393.30,188.21 L394.47,190.41 L396.23,193.43 L398.85,197.68 L401.29,201.45 L402.99,203.92 L404.49,205.91 L406.08,207.82 L408.09,210.04 L410.17,212.19 L412.33,214.26 L414.19,215.93 L416.11,217.51 L418.11,218.99 L420.18,220.39 L422.72,221.97 L425.75,223.71 L428.83,225.36 L431.51,226.70 L434.24,227.93 L436.55,228.88 L438.89,229.74 L441.73,230.67 L444.61,231.50 L448.00,232.36 L450.92,233.00 L453.87,233.52 L456.34,233.87 L459.32,234.18 L462.80,234.43 L467.29,234.63 L471.79,234.72 L475.79,234.71 L479.28,234.61 L482.77,234.41 L486.25,234.08 L489.72,233.64 L493.67,233.03 L497.60,232.30 L501.50,231.46 L505.39,230.52 L509.73,229.36 L514.05,228.10 L518.33,226.74 L522.12,225.44 L525.39,224.22 L528.16,223.08 L531.35,221.65 L535.84,219.47 L543.46,215.71 L547.98,213.58 L551.64,211.96 L554.87,210.64 L558.15,209.43 L560.99,208.48 L563.38,207.77 L565.79,207.15 L567.74,206.74 L569.70,206.41 L571.18,206.25 L572.66,206.19 L574.15,206.22 L575.63,206.36 L576.60,206.53 L577.56,206.77 L578.97,207.24 L579.89,207.61 L580.77,208.06 L581.60,208.58 L582.37,209.19 L583.09,209.87 L583.74,210.61 L584.36,211.38 L585.19,212.61 L586.21,214.31 L587.39,216.51 L587.84,217.40" fill="none" stroke="#0000ff" stroke-width="1.35" stroke-linejoin="round"/>
</g>
<g clip-path="url(#c2R)">
<path d="M381.60,247.00 L382.26,255.97 L382.79,261.94 L383.38,267.40 L384.27,274.33 L385.32,281.75 L386.03,286.19 L386.67,289.62 L387.52,293.52 L388.83,298.86 L389.97,303.20 L390.81,306.07 L391.60,308.44 L392.81,311.71 L394.68,316.34 L396.44,320.47 L397.69,323.19 L398.81,325.42 L400.01,327.60 L401.79,330.60 L403.67,333.54 L405.36,336.01 L406.83,338.03 L408.37,339.98 L409.67,341.49 L411.03,342.94 L412.46,344.33 L414.32,345.99 L416.63,347.88 L419.00,349.71 L421.43,351.45 L423.50,352.83 L425.63,354.14 L428.24,355.60 L430.90,356.97 L433.60,358.25 L435.89,359.24 L438.21,360.15 L440.56,360.97 L442.95,361.68 L445.36,362.29 L448.29,362.92 L451.23,363.46 L454.19,363.90 L457.16,364.24 L461.14,364.57 L466.13,364.87 L471.12,365.06 L475.11,365.11 L479.10,365.05 L483.09,364.87 L487.07,364.59 L491.55,364.17 L497.01,363.54 L502.94,362.73 L509.36,361.74 L515.27,360.72 L520.66,359.68 L536.79,356.28 L541.20,355.44 L544.65,354.87 L547.61,354.47 L550.59,354.16 L553.58,353.95 L556.57,353.84 L559.56,353.82 L562.04,353.89 L564.03,354.02 L566.00,354.25 L567.47,354.51 L568.92,354.83 L570.36,355.23 L571.77,355.71 L573.14,356.27 L574.49,356.91 L575.79,357.62 L577.04,358.43 L578.23,359.32 L579.37,360.28 L580.45,361.30 L581.81,362.75 L583.41,364.65 L584.94,366.61 L586.41,368.63 L587.80,370.70" fill="none" stroke="#0000ff" stroke-width="1.35" stroke-linejoin="round"/>
</g>
<g clip-path="url(#c3R)">
<path d="M384.30,380.00 L385.66,392.42 L386.45,398.87 L387.22,404.31 L388.24,410.72 L389.29,416.63 L390.27,421.52 L391.36,426.40 L392.90,432.71 L394.79,439.96 L396.28,445.25 L397.44,449.07 L398.40,451.91 L399.28,454.24 L400.27,456.53 L401.36,458.76 L402.56,460.95 L404.10,463.52 L405.72,466.03 L407.13,468.08 L408.63,470.08 L409.89,471.62 L411.22,473.10 L412.97,474.87 L414.80,476.56 L416.70,478.17 L418.68,479.69 L421.12,481.42 L423.62,483.06 L425.76,484.35 L428.37,485.80 L430.59,486.93 L432.85,487.98 L435.15,488.95 L437.49,489.83 L440.32,490.78 L443.67,491.77 L447.05,492.66 L451.43,493.69 L456.32,494.72 L460.24,495.45 L463.70,496.00 L467.16,496.44 L470.64,496.77 L474.63,497.04 L479.62,497.25 L487.11,497.44 L497.60,497.57 L514.59,497.65 L521.09,497.77 L526.58,497.97 L531.57,498.25 L537.05,498.68 L542.02,499.16 L545.99,499.64 L549.44,500.15 L552.39,500.69 L555.32,501.32 L558.71,502.16 L562.07,503.11 L565.41,504.15 L568.24,505.13 L570.56,506.03 L572.85,507.01 L575.10,508.09 L577.29,509.27 L579.44,510.54 L583.23,512.94 L587.80,516.00" fill="none" stroke="#0000ff" stroke-width="1.35" stroke-linejoin="round"/>
</g>
<text x="194.0" y="82.0" font-size="25" fill="#000" text-anchor="start" font-weight="bold" >H1 2002</text>
<text x="293.9" y="82.0" font-size="23.0" fill="#000" text-anchor="start" font-weight="normal" >σ</text>
<text x="308.7" y="90.2" font-size="17.7" fill="#000" text-anchor="start" font-weight="bold" >r</text>
<text x="315.7" y="77.8" font-size="18.0" fill="#000" text-anchor="start" font-weight="bold" >D</text>
<text x="334.6" y="82.0" font-size="24.75" fill="#000" text-anchor="start" font-weight="bold" >NLO QCD Fit</text>
<text x="456.6" y="108.45" font-size="19.6" fill="#000" text-anchor="start" font-weight="bold" >H1 preliminary</text>
<text x="153.8" y="142.7" font-size="19.6" fill="#0000ff" text-anchor="start" font-weight="bold" >Singlet</text>
<text x="454.6" y="142.7" font-size="19.6" fill="#0000ff" text-anchor="start" font-weight="bold" >Gluon</text>
<text x="613.2" y="142.6" font-size="19.6" fill="#0000ff" text-anchor="start" font-weight="bold" >Q</text>
<text x="629.0" y="132.2" font-size="13" fill="#0000ff" text-anchor="start" font-weight="bold" >2</text>
<text x="614.0" y="159.0" font-size="17.6" fill="#0000ff" text-anchor="start" font-weight="normal" stroke="#0000ff" stroke-width="0.45">[</text>
<text x="619.8" y="159.0" font-size="19.8" fill="#0000ff" text-anchor="start" font-weight="bold" >GeV</text>
<text x="658.6" y="150.0" font-size="13" fill="#0000ff" text-anchor="start" font-weight="bold" >2</text>
<text x="667.3" y="159.0" font-size="17.6" fill="#0000ff" text-anchor="start" font-weight="normal" stroke="#0000ff" stroke-width="0.45">]</text>
<text x="613.2" y="196.0" font-size="19.6" fill="#0000ff" text-anchor="start" font-weight="bold" >6.5</text>
<text x="613.2" y="328.8" font-size="19.6" fill="#0000ff" text-anchor="start" font-weight="bold" >15</text>
<text x="613.2" y="461.0" font-size="19.6" fill="#0000ff" text-anchor="start" font-weight="bold" >90</text>
<text x="73.8" y="262.1" font-size="17.2" fill="#000" text-anchor="end" font-weight="bold" >0</text>
<text x="73.8" y="218.0" font-size="17.2" fill="#000" text-anchor="end" font-weight="bold" >0.1</text>
<text x="73.8" y="173.79999999999998" font-size="17.2" fill="#000" text-anchor="end" font-weight="bold" >0.2</text>
<text x="374.3" y="262.1" font-size="17.2" fill="#000" text-anchor="end" font-weight="bold" >0</text>
<text x="374.3" y="178.39999999999998" font-size="17.2" fill="#000" text-anchor="end" font-weight="bold" >1</text>
<text x="73.8" y="395.1" font-size="17.2" fill="#000" text-anchor="end" font-weight="bold" >0</text>
<text x="73.8" y="351.0" font-size="17.2" fill="#000" text-anchor="end" font-weight="bold" >0.1</text>
<text x="73.8" y="306.8" font-size="17.2" fill="#000" text-anchor="end" font-weight="bold" >0.2</text>
<text x="374.3" y="395.1" font-size="17.2" fill="#000" text-anchor="end" font-weight="bold" >0</text>
<text x="374.3" y="311.4" font-size="17.2" fill="#000" text-anchor="end" font-weight="bold" >1</text>
<text x="73.8" y="527.4" font-size="17.2" fill="#000" text-anchor="end" font-weight="bold" >0</text>
<text x="73.8" y="483.29999999999995" font-size="17.2" fill="#000" text-anchor="end" font-weight="bold" >0.1</text>
<text x="73.8" y="439.09999999999997" font-size="17.2" fill="#000" text-anchor="end" font-weight="bold" >0.2</text>
<text x="374.3" y="527.4" font-size="17.2" fill="#000" text-anchor="end" font-weight="bold" >0</text>
<text x="374.3" y="443.69999999999993" font-size="17.2" fill="#000" text-anchor="end" font-weight="bold" >1</text>
<text x="121.0" y="540.7" font-size="17" fill="#000" text-anchor="middle" font-weight="bold" >0.2</text>
<text x="163.6" y="540.7" font-size="17" fill="#000" text-anchor="middle" font-weight="bold" >0.4</text>
<text x="206.2" y="540.7" font-size="17" fill="#000" text-anchor="middle" font-weight="bold" >0.6</text>
<text x="248.8" y="540.7" font-size="17" fill="#000" text-anchor="middle" font-weight="bold" >0.8</text>
<text x="291.4" y="540.7" font-size="17" fill="#000" text-anchor="middle" font-weight="bold" >1</text>
<text x="421.7" y="540.7" font-size="17" fill="#000" text-anchor="middle" font-weight="bold" >0.2</text>
<text x="464.3" y="540.7" font-size="17" fill="#000" text-anchor="middle" font-weight="bold" >0.4</text>
<text x="506.9" y="540.7" font-size="17" fill="#000" text-anchor="middle" font-weight="bold" >0.6</text>
<text x="549.5" y="540.7" font-size="17" fill="#000" text-anchor="middle" font-weight="bold" >0.8</text>
<text x="592.1" y="540.7" font-size="17" fill="#000" text-anchor="middle" font-weight="bold" >1</text>
<text x="279.3" y="574.8" font-size="26" fill="#000" text-anchor="start" font-weight="bold" >z</text>
<text x="580.0" y="574.8" font-size="26" fill="#000" text-anchor="start" font-weight="bold" >z</text>
<g transform="translate(23.8,221.3) rotate(-90)">
<text x="0" y="0" font-size="26" fill="#000" text-anchor="start" font-weight="bold" >z</text>
<text x="19.4" y="0" font-size="25.5" fill="#000" text-anchor="start" font-weight="normal" font-family="'Liberation Serif', serif">Σ</text>
<text x="33.6" y="0" font-size="26" fill="#000" text-anchor="start" font-weight="bold" letter-spacing="-0.45">(z,Q</text>
<text x="80.3" y="-12.7" font-size="18" fill="#000" text-anchor="start" font-weight="bold" >2</text>
<text x="89.4" y="0" font-size="26" fill="#000" text-anchor="start" font-weight="bold" >)</text>
</g>
<g transform="translate(324.3,221.3) rotate(-90)">
<text x="0" y="0" font-size="26" fill="#000" text-anchor="start" font-weight="bold" >z</text>
<text x="19.2" y="0" font-size="26" fill="#000" text-anchor="start" font-weight="bold" >g</text>
<text x="33.6" y="0" font-size="26" fill="#000" text-anchor="start" font-weight="bold" letter-spacing="-0.45">(z,Q</text>
<text x="80.3" y="-12.7" font-size="18" fill="#000" text-anchor="start" font-weight="bold" >2</text>
<text x="89.4" y="0" font-size="26" fill="#000" text-anchor="start" font-weight="bold" >)</text>
</g>
<text x="126.7" y="604.4" font-size="19.4" fill="#000" text-anchor="start" font-weight="bold" >H1 2002</text>
<text x="206.1" y="604.4" font-size="17.85" fill="#000" text-anchor="start" font-weight="normal" >σ</text>
<text x="217.9" y="610.6999999999999" font-size="13.74" fill="#000" text-anchor="start" font-weight="bold" >r</text>
<text x="223.1" y="601.5" font-size="13.97" fill="#000" text-anchor="start" font-weight="bold" >D</text>
<text x="238.5" y="604.4" font-size="19.5" fill="#000" text-anchor="start" font-weight="bold" >NLO QCD Fit</text>
<text x="125.1" y="627.2" font-size="19.5" fill="#000" text-anchor="start" font-weight="bold" >(exp. error)</text>
<text x="125.1" y="653.8" font-size="19.66" fill="#000" text-anchor="start" font-weight="bold" >(exp.+theor. error)</text>
<text x="124.7" y="693.0" font-size="19.4" fill="#000" text-anchor="start" font-weight="bold" >H1 2002</text>
<text x="203.7" y="693.0" font-size="17.85" fill="#000" text-anchor="start" font-weight="normal" >σ</text>
<text x="215.5" y="699.6" font-size="13.74" fill="#000" text-anchor="start" font-weight="bold" >r</text>
<text x="221.6" y="690.2" font-size="13.97" fill="#000" text-anchor="start" font-weight="bold" >D</text>
<text x="236.8" y="693.0" font-size="19.4" fill="#000" text-anchor="start" font-weight="bold" >LO QCD Fit</text>
<rect x="78.5" y="611.5" width="36" height="17" fill="#ff8080" stroke="#9a7070" stroke-width="0.7"/>
<line x1="79" y1="620.2" x2="114" y2="620.2" stroke="#ffb0b0" stroke-width="0.9"/>
<rect x="78.5" y="638.5" width="36" height="17" fill="#ffc0c0" stroke="#a08888" stroke-width="0.7"/>
<line x1="79" y1="647.0" x2="114" y2="647.0" stroke="#ffdcdc" stroke-width="0.9"/>
<line x1="78.5" y1="686.7" x2="114.5" y2="686.7" stroke="#0000ff" stroke-width="1.3"/>
</svg>
</body></html>
